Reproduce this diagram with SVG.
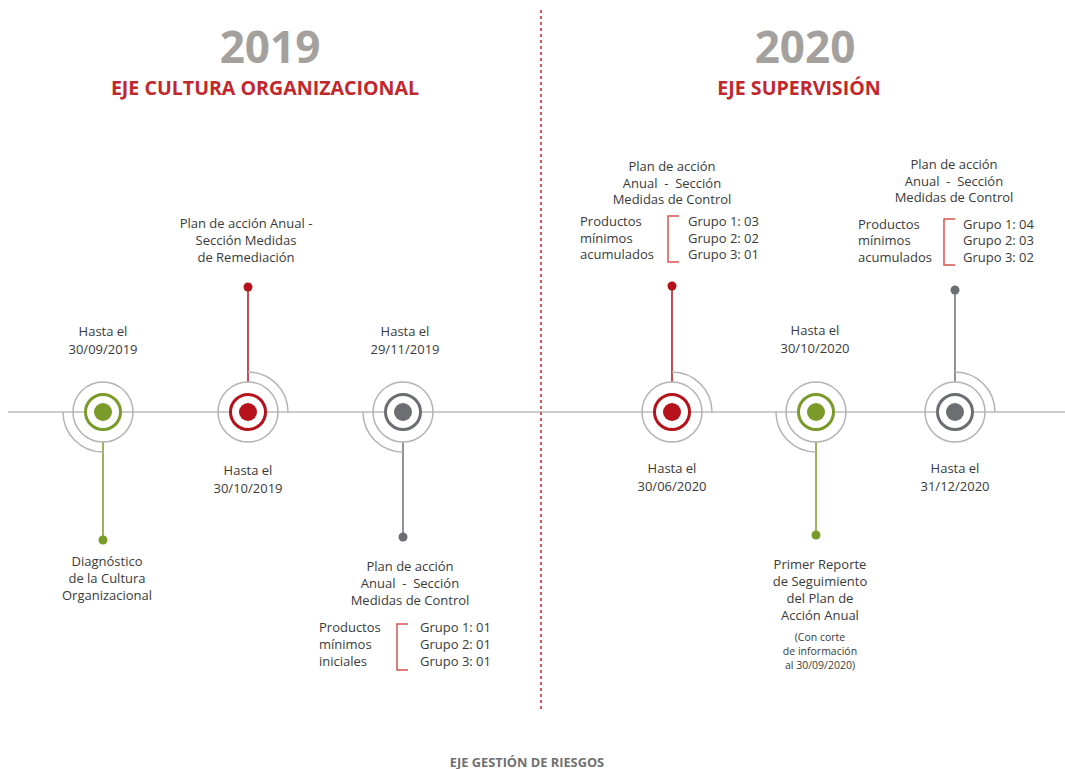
<svg xmlns="http://www.w3.org/2000/svg" width="1065" height="769" viewBox="0 0 1065 769">
<style>
.t{font-family:"Open Sans","Liberation Sans",sans-serif;font-size:13px;fill:#3a3a3a}
.c{text-anchor:middle}
.s{font-size:10.5px}
.yr{font-family:"Open Sans","Liberation Sans",sans-serif;font-weight:bold;font-size:44px;fill:#a3a09d;text-anchor:middle}
.ax{font-family:"Open Sans","Liberation Sans",sans-serif;font-weight:bold;font-size:19.6px;fill:#c1272d;text-anchor:middle}
.ft{font-family:"Open Sans","Liberation Sans",sans-serif;font-weight:bold;font-size:12.8px;fill:#707070;text-anchor:middle}
.outer{fill:none;stroke:#b3b3b3;stroke-width:1.5}
.arc{fill:none;stroke:#b3b3b3;stroke-width:1.5}
.br{fill:none;stroke:#d9534f;stroke-width:1.5}
.g{stroke:#7a9a2a}.gf{fill:#7a9a2a}
.r{stroke:#b5121b}.rf{fill:#b5121b}
.k{stroke:#6d6e71}.kf{fill:#6d6e71}
</style>
<rect width="1065" height="769" fill="#fff"/>
<g id="axis">
<line x1="8" y1="412" x2="1065" y2="412" stroke="#999" stroke-width="1.2"/>
<line x1="541" y1="10" x2="541" y2="712" stroke="#c1272d" stroke-width="1.5" stroke-dasharray="3,3"/>
</g>
<g id="titles">
<text class="yr" x="270" y="63">2019</text>
<text class="ax" x="265" y="95">EJE CULTURA ORGANIZACIONAL</text>
<text class="yr" x="805" y="63">2020</text>
<text class="ax" x="799" y="95">EJE SUPERVISIÓN</text>
<text class="ft" x="527" y="767">EJE GESTIÓN DE RIESGOS</text>
</g>
<g id="connectors" stroke-width="1.5">
<line class="g" x1="103" y1="442" x2="103" y2="540"/>
<line class="r" x1="248" y1="287" x2="248" y2="382"/>
<line class="k" x1="403" y1="442" x2="403" y2="537"/>
<line class="r" x1="672" y1="286" x2="672" y2="382"/>
<line class="g" x1="816" y1="442" x2="816" y2="535"/>
<line class="k" x1="955" y1="290" x2="955" y2="382"/>
<circle class="gf" cx="103" cy="540" r="4.5"/>
<circle class="rf" cx="248" cy="287" r="4.5"/>
<circle class="kf" cx="403" cy="537" r="4.5"/>
<circle class="rf" cx="672" cy="286" r="4.5"/>
<circle class="gf" cx="816" cy="535" r="4.5"/>
<circle class="kf" cx="955" cy="290" r="4.5"/>
</g>
<g id="node1">
<path class="arc" d="M63,412 A40,40 0 0 0 103,452"/>
<circle class="outer" cx="103" cy="412" r="30"/>
<circle class="g" cx="103" cy="412" r="17.5" fill="#fff" stroke-width="3"/>
<circle class="gf" cx="103" cy="412" r="9"/>
<text class="t c" x="103" y="336">Hasta el</text>
<text class="t c" x="103" y="354">30/09/2019</text>
<text class="t c" x="107" y="566">Diagnóstico</text>
<text class="t c" x="107" y="583">de la Cultura</text>
<text class="t c" x="107" y="600">Organizacional</text>
</g>
<g id="node2">
<path class="arc" d="M248,372 A40,40 0 0 1 288,412"/>
<circle class="outer" cx="248" cy="412" r="30"/>
<circle class="r" cx="248" cy="412" r="17.5" fill="#fff" stroke-width="3"/>
<circle class="rf" cx="248" cy="412" r="9"/>
<text class="t c" x="246" y="228">Plan de acción Anual -</text>
<text class="t c" x="246" y="245">Sección Medidas</text>
<text class="t c" x="246" y="262">de Remediación</text>
<text class="t c" x="248" y="475">Hasta el</text>
<text class="t c" x="248" y="493">30/10/2019</text>
</g>
<g id="node3">
<path class="arc" d="M363,412 A40,40 0 0 0 403,452"/>
<circle class="outer" cx="403" cy="412" r="30"/>
<circle class="k" cx="403" cy="412" r="17.5" fill="#fff" stroke-width="3"/>
<circle class="kf" cx="403" cy="412" r="9"/>
<text class="t c" x="405" y="336">Hasta el</text>
<text class="t c" x="405" y="354">29/11/2019</text>
<text class="t c" x="410" y="571">Plan de acción</text>
<text class="t c" x="410" y="588" xml:space="preserve">Anual  -  Sección</text>
<text class="t c" x="410" y="605">Medidas de Control</text>
<text class="t" x="319" y="632">Productos</text>
<text class="t" x="319" y="649">mínimos</text>
<text class="t" x="319" y="666">iniciales</text>
<path class="br" d="M408,624 H397 V670 H408"/>
<text class="t" x="420" y="632">Grupo 1: 01</text>
<text class="t" x="420" y="649">Grupo 2: 01</text>
<text class="t" x="420" y="666">Grupo 3: 01</text>
</g>
<g id="node4">
<path class="arc" d="M672,372 A40,40 0 0 1 712,412"/>
<circle class="outer" cx="672" cy="412" r="30"/>
<circle class="r" cx="672" cy="412" r="17.5" fill="#fff" stroke-width="3"/>
<circle class="rf" cx="672" cy="412" r="9"/>
<text class="t c" x="672" y="171">Plan de acción</text>
<text class="t c" x="672" y="188" xml:space="preserve">Anual  -  Sección</text>
<text class="t c" x="672" y="204">Medidas de Control</text>
<text class="t" x="580" y="226">Productos</text>
<text class="t" x="580" y="243">mínimos</text>
<text class="t" x="580" y="259">acumulados</text>
<path class="br" d="M679,216 H668 V262 H679"/>
<text class="t" x="688" y="226">Grupo 1: 03</text>
<text class="t" x="688" y="243">Grupo 2: 02</text>
<text class="t" x="688" y="259">Grupo 3: 01</text>
<text class="t c" x="672" y="473">Hasta el</text>
<text class="t c" x="672" y="491">30/06/2020</text>
</g>
<g id="node5">
<path class="arc" d="M776,412 A40,40 0 0 0 816,452"/>
<circle class="outer" cx="816" cy="412" r="30"/>
<circle class="g" cx="816" cy="412" r="17.5" fill="#fff" stroke-width="3"/>
<circle class="gf" cx="816" cy="412" r="9"/>
<text class="t c" x="815" y="335">Hasta el</text>
<text class="t c" x="815" y="353">30/10/2020</text>
<text class="t c" x="820" y="569">Primer Reporte</text>
<text class="t c" x="820" y="586">de Seguimiento</text>
<text class="t c" x="820" y="603">del Plan de</text>
<text class="t c" x="820" y="620">Acción Anual</text>
<text class="t c s" x="820" y="641">(Con corte</text>
<text class="t c s" x="820" y="655">de información</text>
<text class="t c s" x="820" y="669">al 30/09/2020)</text>
</g>
<g id="node6">
<path class="arc" d="M955,372 A40,40 0 0 1 995,412"/>
<circle class="outer" cx="955" cy="412" r="30"/>
<circle class="k" cx="955" cy="412" r="17.5" fill="#fff" stroke-width="3"/>
<circle class="kf" cx="955" cy="412" r="9"/>
<text class="t c" x="954" y="169">Plan de acción</text>
<text class="t c" x="954" y="186" xml:space="preserve">Anual  -  Sección</text>
<text class="t c" x="954" y="202">Medidas de Control</text>
<text class="t" x="858" y="229">Productos</text>
<text class="t" x="858" y="245">mínimos</text>
<text class="t" x="858" y="262">acumulados</text>
<path class="br" d="M955,219 H944 V265 H955"/>
<text class="t" x="963" y="229">Grupo 1: 04</text>
<text class="t" x="963" y="245">Grupo 2: 03</text>
<text class="t" x="963" y="262">Grupo 3: 02</text>
<text class="t c" x="955" y="473">Hasta el</text>
<text class="t c" x="955" y="491">31/12/2020</text>
</g>
</svg>
